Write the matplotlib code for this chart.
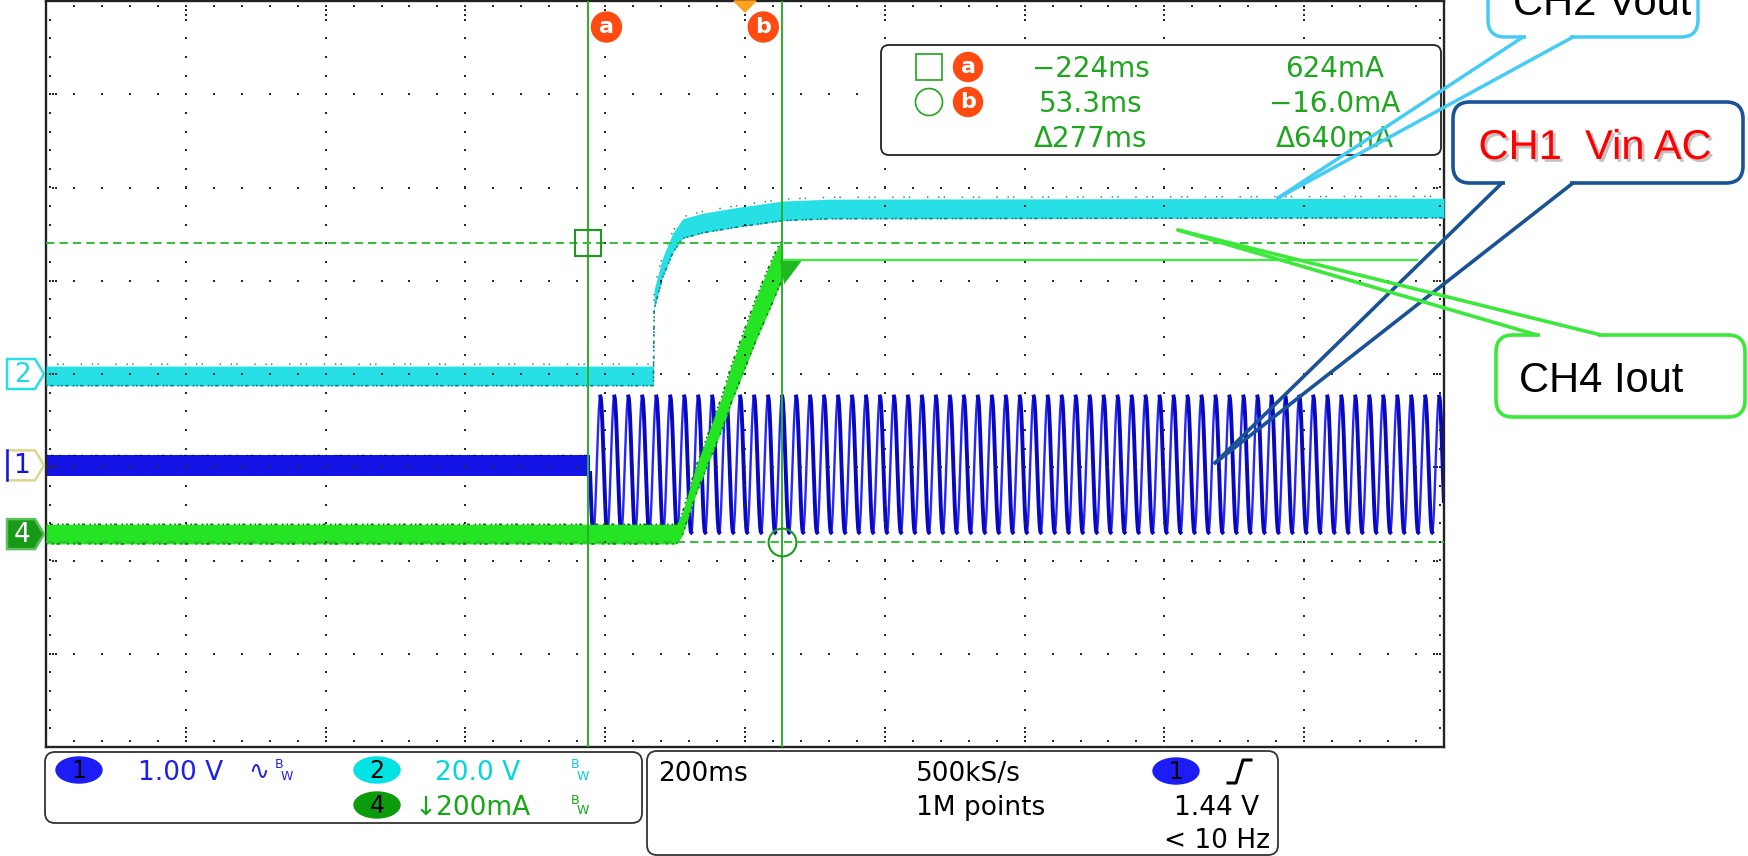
import numpy as np
import matplotlib
matplotlib.use("Agg")
import matplotlib.pyplot as plt
import matplotlib.patheffects as pe
from matplotlib.patches import FancyBboxPatch, Polygon, Ellipse, Circle

W, H = 1748, 856

# scope screen: 10 x 8 divisions, 200 ms/div, trigger in the middle
t_min, t_max = -1000, 1000
div_y = 4

# CH2 Vout, 20 V/div, ground on the centre line
ch2_scale = 20.0
ch2_offset = 0.0
ch2_t = [-1000, -131, -130, -118, -103, -89, -60, -12, 54, 121, 1000]
ch2_v = [-0.4, -0.4, 16.0, 22.8, 28.2, 31.2, 32.4, 33.6, 35.0, 35.4, 35.6]
ch2_noise = 2.1

# CH1 Vin AC, 1 V/div, ground one division below centre
ch1_scale = 1.0
ch1_offset = -0.98
ch1_off_t = [-1000, -221.6]
ch1_off_v = [0.0, 0.0]
ch1_noise = 0.11
ac_start = -221.6
ac_freq = 50.0          # Hz
ac_first_peak = -207.0  # ms
ac_peak = 0.74
ac_trough = -0.72

# CH4 Iout, 200 mA/div
ch4_scale = 200.0
ch4_offset = -1.717
ch4_t = [-1000, -98, -90, -70, -33, -20, 16, 38, 52.5]
ch4_ma = [0, 0, 20, 116, 260, 320, 462, 540, 588]
ch4_noise = [21, 21, 24, 30, 36, 40, 46, 48, 44]
ch4_hold_t = [52.5, 961]
ch4_hold_ma = [588, 588]
ch4_cap_t = [50, 82, 56]
ch4_cap_ma = [588, 588, 536]

# cursors, measured on CH4
cur_a_t, cur_a_ma = -224.0, 624.0
cur_b_t, cur_b_ma = 53.3, -16.0
readout_time = ["\u2212224ms", "53.3ms", "\u0394277ms"]
readout_amp = ["624mA", "\u221216.0mA", "\u0394640mA"]

# status bar
ch_scales = ["1.00 V", "20.0 V", "\u2193200mA"]
timebase = "200ms"
sample_rate = "500kS/s"
record_len = "1M points"
trig_level = "1.44 V"
trig_freq = "< 10 Hz"

CYAN = "#26e0e6"
BLUE = "#1414e6"
GREEN = "#24e424"
CUR = "#27b327"
TXT_GREEN = "#1fa61f"
ORANGE = "#ff4b12"

fig = plt.figure(figsize=(W / 100, H / 100), dpi=100)
ax = fig.add_axes([46 / W, (H - 747) / H, 1398 / W, 746 / H])
ax.set_xlim(t_min, t_max)
ax.set_ylim(-div_y, div_y)
ax.set_xticks([])
ax.set_yticks([])
for s in ax.spines.values():
    s.set_color("#222222")
    s.set_linewidth(1.7)

# overlay in pixel units for everything around the screen
ov = fig.add_axes([0, 0, 1, 1], zorder=5)
ov.set_xlim(0, W)
ov.set_ylim(H, 0)
ov.axis("off")


def px(t, d):
    x, y = ax.transData.transform((t, d))
    return x, H - y


# ---- graticule ----
fine_t = np.arange(t_min, t_max + 1, 40)
fine_y = np.arange(-div_y, div_y + 0.01, 0.2)
major_t = np.arange(t_min + 200, t_max, 200)
major_y = np.arange(-3, 4, 1)
gx, gy = [], []
for mt in major_t:
    gx += [mt] * len(fine_y)
    gy += list(fine_y)
for my in major_y:
    gx += list(fine_t)
    gy += [my] * len(fine_t)
# edge ticks
gx += [t_min + 6] * len(fine_y) + [t_max - 6] * len(fine_y)
gy += list(fine_y) * 2
gx += list(fine_t) * 2
gy += [div_y - 0.05] * len(fine_t) + [-div_y + 0.06] * len(fine_t)
for my in major_y:
    gx += [t_min + 10, t_min + 14, t_max - 10, t_max - 14]
    gy += [my] * 4
for mt in major_t:
    gx += [mt] * 4
    gy += [div_y - 0.1, div_y - 0.15, -div_y + 0.11, -div_y + 0.16]
ax.plot(gx, gy, ls="none", marker="s", ms=1.9, mew=0, color="#2a2a2a", zorder=5)

# ---- CH2 ----
c2 = ch2_offset + np.array(ch2_v) / ch2_scale
h2 = ch2_noise / ch2_scale
ax.fill_between(ch2_t, c2 - h2, c2 + h2, color=CYAN, lw=0, zorder=3)
ax.plot(ch2_t, c2 - h2, color="#147a7e", lw=1.2, ls=(0, (1, 1.5, 2, 2.5, 1, 1)), zorder=3)
ax.plot(ch2_t, c2 + h2 + 0.02, color="#147a7e", lw=1.0, ls=(0, (1, 7, 1, 3, 1, 12)), zorder=3)

# ---- CH1 ----
c1 = ch1_offset + np.array(ch1_off_v) / ch1_scale
h1 = ch1_noise / ch1_scale
ax.fill_between(ch1_off_t, c1 - h1, c1 + h1, color=BLUE, lw=0, zorder=2)
ax.plot(ch1_off_t, c1 + h1, color="#00008a", lw=1.0, ls=(0, (1, 2, 2, 4, 1, 6)), zorder=2)

t_ac = np.arange(ac_start, t_max, 0.2)
mid = (ac_peak + ac_trough) / 2
amp = (ac_peak - ac_trough) / 2
v_ac = mid + amp * np.cos(2 * np.pi * ac_freq * (t_ac - ac_first_peak) / 1000)
y_ac = ch1_offset + v_ac / ch1_scale
ax.plot(t_ac, y_ac, color="#2626ff", lw=1.7, zorder=2)
falling = np.where(np.gradient(y_ac) < 0, y_ac, np.nan)
ax.plot(t_ac, falling, color="#0808c0", lw=2.8, zorder=2)

# ---- CH4 ----
c4 = ch4_offset + np.array(ch4_ma) / ch4_scale
h4 = np.array(ch4_noise) / ch4_scale
ax.fill_between(ch4_t, c4 - h4, c4 + h4, color=GREEN, lw=0, zorder=4)
ax.plot(ch4_t, c4 + h4, color="#0b6b0b", lw=1.1, ls=(0, (1, 1.5, 2, 3, 1, 2)), zorder=4)
ax.plot(ch4_t, c4 - h4, color="#0b6b0b", lw=1.1, ls=(0, (1, 3, 1, 2, 2, 5)), zorder=4)
ax.fill(ch4_cap_t, ch4_offset + np.array(ch4_cap_ma) / ch4_scale, color="#1fb81f", lw=0, zorder=4)
ax.plot(ch4_hold_t, ch4_offset + np.array(ch4_hold_ma) / ch4_scale, color="#3cee3c", lw=1.6, zorder=4)

# ---- cursors ----
ya = ch4_offset + cur_a_ma / ch4_scale
yb = ch4_offset + cur_b_ma / ch4_scale
for t in (cur_a_t, cur_b_t):
    ax.axvline(t, color=CUR, lw=1.4, zorder=6)
for y in (ya, yb):
    ax.axhline(y, color="#36bd36", lw=1.4, ls=(0, (4.3, 2.6)), zorder=6)
ax.plot([cur_a_t], [ya], marker="s", ms=19, mfc="none", mec="#1f9a1f", mew=1.5, zorder=6)
ax.plot([cur_b_t], [yb], marker="o", ms=20, mfc="none", mec="#1f9a1f", mew=1.5, zorder=6)

# cursor tags and trigger position on top edge
xa, _ = px(cur_a_t, 0)
xb, _ = px(cur_b_t, 0)
for x, lab in ((xa + 18, "a"), (xb - 19, "b")):
    ov.add_patch(Circle((x, 27), 15, color=ORANGE, zorder=7))
    ov.text(x, 27, lab, color="white", fontsize=16, fontweight="bold", ha="center", va="center", zorder=8)
xt, _ = px(0, 0)
ov.add_patch(Polygon([(xt - 11, 1), (xt + 11, 1), (xt, 12)], color="#ffa21f", zorder=7))

# channel markers on the left edge
_, y2 = px(t_min, ch2_offset)
_, y1 = px(t_min, ch1_offset)
_, y4 = px(t_min, ch4_offset)


def tag(yc):
    return [(7, yc - 15), (35, yc - 15), (44, yc), (35, yc + 15), (7, yc + 15)]


ov.add_patch(Polygon(tag(y2), fc="white", ec=CYAN, lw=1.8, zorder=7))
ov.text(22, y2 + 1, "2", color="#1ed8de", fontsize=19, ha="center", va="center", zorder=8)
ov.add_patch(Polygon(tag(y1), fc="white", ec="#dcd68a", lw=1.8, zorder=7))
ov.plot([7, 7], [y1 - 15, y1 + 15], color=BLUE, lw=1.8, zorder=7)
ov.text(22, y1 + 1, "1", color=BLUE, fontsize=19, ha="center", va="center", zorder=8)
ov.add_patch(Polygon(tag(y4), fc="#179a17", ec="#5cc05c", lw=1.8, zorder=7))
ov.text(22, y4 + 1, "4", color="white", fontsize=19, ha="center", va="center", zorder=8)


def scope_text(x, y, s, color="black", size=19, ha="left"):
    ov.text(x, y + 0.365 * size * 100 / 72, s, color=color, fontsize=size,
            ha=ha, va="baseline", zorder=9)


# ---- cursor readout ----
ov.add_patch(FancyBboxPatch((881, 45), 560, 110, boxstyle="round,pad=0,rounding_size=8",
                            fc="white", ec="#222222", lw=1.3, zorder=8))
rows = [67, 102, 137]
ov.add_patch(FancyBboxPatch((916, rows[0] - 13), 26, 26, boxstyle="square,pad=0",
                            fc="none", ec=TXT_GREEN, lw=1.2, zorder=9))
ov.add_patch(Circle((929, rows[1]), 13.5, fc="none", ec=TXT_GREEN, lw=1.2, zorder=9))
for y, lab in ((rows[0], "a"), (rows[1], "b")):
    ov.add_patch(Circle((968, y), 14.5, color=ORANGE, zorder=9))
    ov.text(968, y, lab, color="white", fontsize=16, fontweight="bold", ha="center", va="center", zorder=10)
for y, s1, s2 in zip(rows, readout_time, readout_amp):
    scope_text(1091, y, s1, TXT_GREEN, 20, "center")
    scope_text(1335, y, s2, TXT_GREEN, 20, "center")

# ---- status bar ----
ov.add_patch(FancyBboxPatch((45, 752), 597, 71, boxstyle="round,pad=0,rounding_size=10",
                            fc="white", ec="#333333", lw=1.3, zorder=8))
ov.add_patch(FancyBboxPatch((647, 751), 631, 104, boxstyle="round,pad=0,rounding_size=10",
                            fc="white", ec="#333333", lw=1.3, zorder=8))


def chan_badge(x, y, n, color):
    ov.add_patch(Ellipse((x, y), 46, 26, color=color, zorder=9))
    ov.text(x, y + 1, n, color="black", fontsize=17, ha="center", va="center", zorder=10)


def bw_mark(x, y, color):
    ov.text(x, y - 5, "B", color=color, fontsize=9, ha="center", va="center", zorder=9)
    ov.text(x + 8, y + 6, "W", color=color, fontsize=9, ha="center", va="center", zorder=9)


chan_badge(79, 770, "1", "#1c1cf5")
scope_text(181, 770, ch_scales[0], "#2020ee", 19, "center")
ov.text(259, 771, "\u223f", color="#2020ee", fontsize=18, ha="center", va="center", zorder=9)
bw_mark(279, 770, "#2020ee")
chan_badge(377, 770, "2", "#00e2e4")
scope_text(478, 770, ch_scales[1], "#00d8dc", 19, "center")
bw_mark(575, 770, "#00d0d4")
chan_badge(377, 805, "4", "#0b9b0b")
scope_text(473, 805, ch_scales[2], "#14a814", 19, "center")
bw_mark(575, 805, "#14a814")

scope_text(658, 771, timebase)
scope_text(916, 771, sample_rate)
scope_text(916, 805, record_len)
chan_badge(1176, 771, "1", "#1c1cf5")
ov.plot([1228, 1236, 1243, 1251], [783, 783, 760, 760], color="black", lw=2.2, zorder=9)
scope_text(1259, 805, trig_level, ha="right")
scope_text(1270, 838, trig_freq, ha="right")


# ---- callouts ----
def callout(x0, y0, x1, y1, bases, tip, edge, lw=2.5):
    ov.add_patch(FancyBboxPatch((x0, y0), x1 - x0, y1 - y0, boxstyle="round,pad=0,rounding_size=17",
                                fc="white", ec=edge, lw=lw, zorder=11))
    (bx0, by), (bx1, _) = bases
    ov.plot([bx0 + 3, bx1 - 3], [by, by], color="white", lw=lw + 1.5, solid_capstyle="butt", zorder=12)
    for bx in (bx0, bx1):
        ov.plot([bx, tip[0]], [by, tip[1]], color=edge, lw=lw, solid_capstyle="round", zorder=12)


callout(1488, -60, 1698, 37, [(1523, 37), (1573, 37)], (1278, 198), "#44ccf5")
ov.text(1602, 15, "CH2 Vout", fontsize=30, family="Liberation Sans", ha="center", va="baseline", zorder=13)

callout(1453, 102, 1743, 183, [(1502, 183), (1573, 183)], (1215, 463), "#1a5296", 2.6)
ov.text(1595, 159, "CH1  Vin AC", fontsize=30, family="Liberation Sans", color="#ff0000",
        ha="center", va="baseline", zorder=13,
        path_effects=[pe.withSimplePatchShadow(offset=(2, -2), shadow_rgbFace="#888888", alpha=0.5)])

callout(1496, 335, 1745, 417, [(1537, 335), (1601, 335)], (1178, 230), "#3de83d", 2.6)
ov.text(1601, 392, "CH4 Iout", fontsize=30, family="Liberation Sans", ha="center", va="baseline", zorder=13)

fig.savefig("out.png", dpi=100)
